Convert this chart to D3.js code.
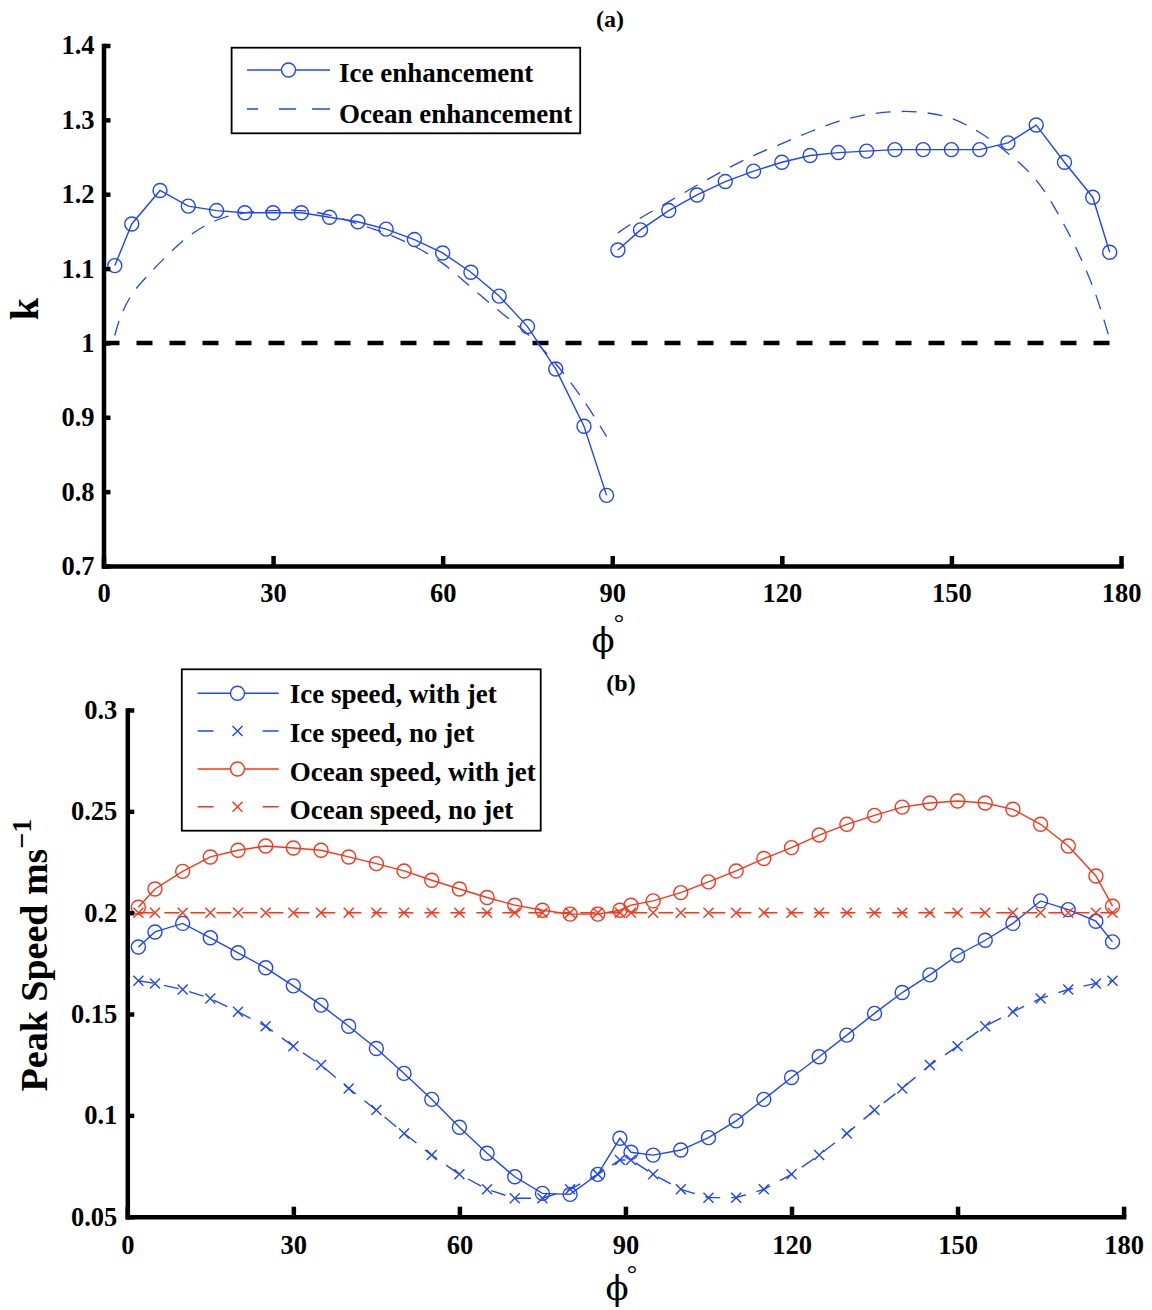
<!DOCTYPE html>
<html><head><meta charset="utf-8">
<script src="https://cdn.jsdelivr.net/npm/d3@7"></script>
<style>body{margin:0;background:#fff}svg{display:block}</style>
</head><body><svg id="c" width="1152" height="1310"></svg>
<script>
// ---------- Panel (a) data ----------
const phiLeft  = [2,5,10,15,20,25,30,35,40,45,50,55,60,65,70,75,80,85,89];
const iceLeft  = [1.104,1.160,1.205,1.184,1.178,1.175,1.175,1.175,1.169,1.163,1.153,1.139,1.121,1.095,1.063,1.022,0.965,0.888,0.795];
const phiOceanLeft = [2,3,5,7.5,10,15,20,25,30,35,40,45,50,55,60,65,70,75,80,85,89];
const oceanLeft = [1.010,1.035,1.065,1.088,1.108,1.143,1.165,1.175,1.178,1.178,1.172,1.160,1.147,1.130,1.107,1.075,1.043,1.012,0.972,0.922,0.874];
const phiRight = [91,95,100,105,110,115,120,125,130,135,140,145,150,155,160,165,170,175,178];
const iceRight = [1.125,1.152,1.178,1.199,1.217,1.231,1.243,1.252,1.256,1.258,1.260,1.260,1.260,1.260,1.269,1.293,1.243,1.196,1.122];
const oceanRight = [1.148,1.168,1.190,1.212,1.233,1.252,1.268,1.284,1.298,1.307,1.311,1.310,1.302,1.283,1.255,1.219,1.158,1.076,1.005];
const refK = 1;
const xTicks = [0,30,60,90,120,150,180];
const xTickLabels = ["0","30","60","90","120","150","180"];
const yTicksA = [0.7,0.8,0.9,1.0,1.1,1.2,1.3,1.4];
const yTickLabelsA = ["0.7","0.8","0.9","1","1.1","1.2","1.3","1.4"];

// ---------- Panel (b) data ----------
const phiB = [2,5,10,15,20,25,30,35,40,45,50,55,60,65,70,75,80,85,89,
              91,95,100,105,110,115,120,125,130,135,140,145,150,155,160,165,170,175,178];
const iceJet = [0.1831,0.1905,0.1947,0.1876,0.1802,0.1728,0.1639,0.1544,0.1440,0.1330,0.1207,0.1079,0.0941,0.0813,0.0697,0.0615,0.0610,0.0709,0.0887,
                0.0818,0.0804,0.0829,0.0890,0.0973,0.1079,0.1187,0.1289,0.1396,0.1503,0.1606,0.1693,0.1790,0.1864,0.1947,0.2058,0.2015,0.1958,0.1856];
const iceNoJet = [0.1664,0.1651,0.1621,0.1577,0.1511,0.1440,0.1341,0.1248,0.1133,0.1026,0.0911,0.0804,0.0709,0.0635,0.0591,0.0591,0.0635,0.0709,0.0780,
                  0.0780,0.0709,0.0635,0.0594,0.0594,0.0635,0.0709,0.0804,0.0911,0.1026,0.1133,0.1248,0.1341,0.1440,0.1511,0.1577,0.1621,0.1651,0.1664];
const oceanJet = [0.2027,0.2117,0.2204,0.2275,0.2308,0.2329,0.2319,0.2308,0.2275,0.2242,0.2206,0.2160,0.2117,0.2075,0.2037,0.2012,0.1993,0.1993,0.2012,
                  0.2037,0.2058,0.2099,0.2152,0.2206,0.2267,0.2321,0.2383,0.2436,0.2480,0.2521,0.2541,0.2551,0.2541,0.2510,0.2436,0.2329,0.2181,0.2032];
const oceanNoJet = [0.2,0.2,0.2,0.2,0.2,0.2,0.2,0.2,0.2,0.2,0.2,0.2,0.2,0.2,0.2,0.2,0.2,0.2,0.2,
                    0.2,0.2,0.2,0.2,0.2,0.2,0.2,0.2,0.2,0.2,0.2,0.2,0.2,0.2,0.2,0.2,0.2,0.2,0.2];
const yTicksB = [0.05,0.1,0.15,0.2,0.25,0.3];
const yTickLabelsB = ["0.05","0.1","0.15","0.2","0.25","0.3"];

const legendA = ["Ice enhancement","Ocean enhancement"];
const legendB = ["Ice speed, with jet","Ice speed, no jet","Ocean speed, with jet","Ocean speed, no jet"];

// ---------- styling ----------
const FONT = "'Liberation Serif','Times New Roman',Times,serif";
const PHIFONT = "'DejaVu Serif','Liberation Serif',serif";
const BLUE = "#1f45ff";
const RED = "#ff3318";
const DASH = "15,11";

const svg = d3.select("#c");
svg.append("rect").attr("width",1152).attr("height",1310).attr("fill","#fff");

const xA = d3.scaleLinear().domain([0,180]).range([103.5,1121]);
const yA = d3.scaleLinear().domain([0.7,1.4]).range([566,45.5]);
const xB = d3.scaleLinear().domain([0,180]).range([127.3,1123.6]);
const yB = d3.scaleLinear().domain([0.05,0.3]).range([1216.7,710]);

function axes(xS, yS, yTicks, yLabels, xPad, yPad) {
  const gx = svg.append("g").attr("transform",`translate(0,${yS.range()[0]})`)
    .call(d3.axisBottom(xS).tickValues(xTicks).tickFormat((d,i)=>xTickLabels[i])
      .tickSizeInner(-10).tickSizeOuter(0).tickPadding(xPad));
  const gy = svg.append("g").attr("transform",`translate(${xS.range()[0]},0)`)
    .call(d3.axisLeft(yS).tickValues(yTicks).tickFormat((d,i)=>yLabels[i])
      .tickSizeInner(-7).tickSizeOuter(0).tickPadding(yPad));
  [gx,gy].forEach(g=>{
    g.attr("font-family",FONT).attr("font-size",26.5).attr("font-weight","bold");
    g.select(".domain").attr("stroke","#000").attr("stroke-width",4.5).attr("stroke-linecap","square");
    g.selectAll(".tick line").attr("stroke","#000").attr("stroke-width",4.5);
    g.selectAll(".tick text").attr("fill","#000");
  });
}

function drawLine(xS, yS, xs, ys, color, dashed, curve, width) {
  const pts = xs.map((x,i)=>[x, ys[i]]);
  svg.append("path").datum(pts)
    .attr("d", d3.line().x(d=>xS(d[0])).y(d=>yS(d[1])).curve(curve || d3.curveLinear))
    .attr("fill","none").attr("stroke",color).attr("stroke-width",width||1.4)
    .attr("stroke-dasharray", dashed ? DASH : null);
}
function circles(xS, yS, xs, ys, color) {
  svg.append("g").selectAll("circle").data(xs.map((x,i)=>[x,ys[i]])).join("circle")
    .attr("cx",d=>xS(d[0])).attr("cy",d=>yS(d[1])).attr("r",7)
    .attr("fill","none").attr("stroke",color).attr("stroke-width",1.4);
}
const crossPath = "M-5,-5L5,5M-5,5L5,-5";
function crosses(xS, yS, xs, ys, color) {
  svg.append("g").selectAll("path").data(xs.map((x,i)=>[x,ys[i]])).join("path")
    .attr("transform",d=>`translate(${xS(d[0])},${yS(d[1])})`)
    .attr("d",crossPath).attr("fill","none").attr("stroke",color).attr("stroke-width",1.4);
}

// ================= Panel (a) =================
svg.append("text").attr("x",610).attr("y",27).attr("text-anchor","middle")
  .attr("font-family",FONT).attr("font-weight","bold").attr("font-size",24).text("(a)");

// reference line k = 1
svg.append("line").attr("x1",xA(0)).attr("x2",xA(180)).attr("y1",yA(refK)).attr("y2",yA(refK))
  .attr("stroke","#000").attr("stroke-width",4.5).attr("stroke-dasharray","16,17");

drawLine(xA,yA,phiOceanLeft,oceanLeft,BLUE,true,d3.curveCatmullRom,1.3);
drawLine(xA,yA,phiRight,oceanRight,BLUE,true,d3.curveCatmullRom,1.3);
drawLine(xA,yA,phiLeft,iceLeft,BLUE,false);
drawLine(xA,yA,phiRight,iceRight,BLUE,false);
circles(xA,yA,phiLeft,iceLeft,BLUE);
circles(xA,yA,phiRight,iceRight,BLUE);

axes(xA,yA,yTicksA,yTickLabelsA,17,9);

// axis titles (a)
svg.append("text").attr("transform","translate(37.5,309) rotate(-90)").attr("text-anchor","middle")
  .attr("font-family",FONT).attr("font-weight","bold").attr("font-size",40).text("k");
svg.append("text").attr("x",603).attr("y",652).attr("text-anchor","middle")
  .attr("font-family",PHIFONT).attr("font-size",34).text("ϕ");
svg.append("text").attr("x",619).attr("y",631).attr("text-anchor","middle")
  .attr("font-family",FONT).attr("font-size",26).text("°");

// legend (a)
const lgA = svg.append("g");
lgA.append("rect").attr("x",231.6).attr("y",47.7).attr("width",348.6).attr("height",85.6)
  .attr("fill","#fff").attr("stroke","#000").attr("stroke-width",1.8);
[[70,82,false],[109,123,true]].forEach((r,i)=>{
  lgA.append("line").attr("x1",247).attr("x2",330).attr("y1",r[0]).attr("y2",r[0])
    .attr("stroke",BLUE).attr("stroke-width",1.4).attr("stroke-dasharray",r[2]?"11,21,17,16,18":null);
  if(!r[2]) lgA.append("circle").attr("cx",288.5).attr("cy",r[0]).attr("r",7)
    .attr("fill","#fff").attr("stroke",BLUE).attr("stroke-width",1.4);
  lgA.append("text").attr("x",339).attr("y",r[1]).attr("font-family",FONT)
    .attr("font-weight","bold").attr("font-size",27).text(legendA[i]);
});

// ================= Panel (b) =================
svg.append("text").attr("x",621).attr("y",691).attr("text-anchor","middle")
  .attr("font-family",FONT).attr("font-weight","bold").attr("font-size",24).text("(b)");

drawLine(xB,yB,phiB,iceJet,BLUE,false);
circles(xB,yB,phiB,iceJet,BLUE);
drawLine(xB,yB,phiB,iceNoJet,BLUE,true);
crosses(xB,yB,phiB,iceNoJet,BLUE);
drawLine(xB,yB,phiB,oceanJet,RED,false);
circles(xB,yB,phiB,oceanJet,RED);
drawLine(xB,yB,phiB,oceanNoJet,RED,true);
crosses(xB,yB,phiB,oceanNoJet,RED);

axes(xB,yB,yTicksB,yTickLabelsB,18,10);

const yl = svg.append("text").attr("transform","translate(47,955) rotate(-90)").attr("text-anchor","middle")
  .attr("font-family",FONT).attr("font-weight","bold").attr("font-size",38);
yl.append("tspan").text("Peak Speed ms");
yl.append("tspan").attr("dy",-16).attr("font-size",28).text("−1");

svg.append("text").attr("x",617).attr("y",1300).attr("text-anchor","middle")
  .attr("font-family",PHIFONT).attr("font-size",34).text("ϕ");
svg.append("text").attr("x",632).attr("y",1282).attr("text-anchor","middle")
  .attr("font-family",FONT).attr("font-size",26).text("°");

// legend (b)
const lgB = svg.append("g");
lgB.append("rect").attr("x",181.8).attr("y",669.3).attr("width",358.9).attr("height",161.4)
  .attr("fill","#fff").attr("stroke","#000").attr("stroke-width",1.8);
const rowsB = [[693.3,703,BLUE,false],[731,742,BLUE,true],[769,781,RED,false],[806.7,819,RED,true]];
rowsB.forEach((r,i)=>{
  lgB.append("line").attr("x1",197.6).attr("x2",278.7).attr("y1",r[0]).attr("y2",r[0])
    .attr("stroke",r[2]).attr("stroke-width",1.4).attr("stroke-dasharray",r[3]?"16,49":null);
  if(r[3]) lgB.append("path").attr("transform",`translate(237.5,${r[0]})`).attr("d",crossPath)
    .attr("fill","none").attr("stroke",r[2]).attr("stroke-width",1.4);
  else lgB.append("circle").attr("cx",237.5).attr("cy",r[0]).attr("r",7)
    .attr("fill","#fff").attr("stroke",r[2]).attr("stroke-width",1.4);
  lgB.append("text").attr("x",289.7).attr("y",r[1]).attr("font-family",FONT)
    .attr("font-weight","bold").attr("font-size",27).text(legendB[i]);
});
</script></body></html>
